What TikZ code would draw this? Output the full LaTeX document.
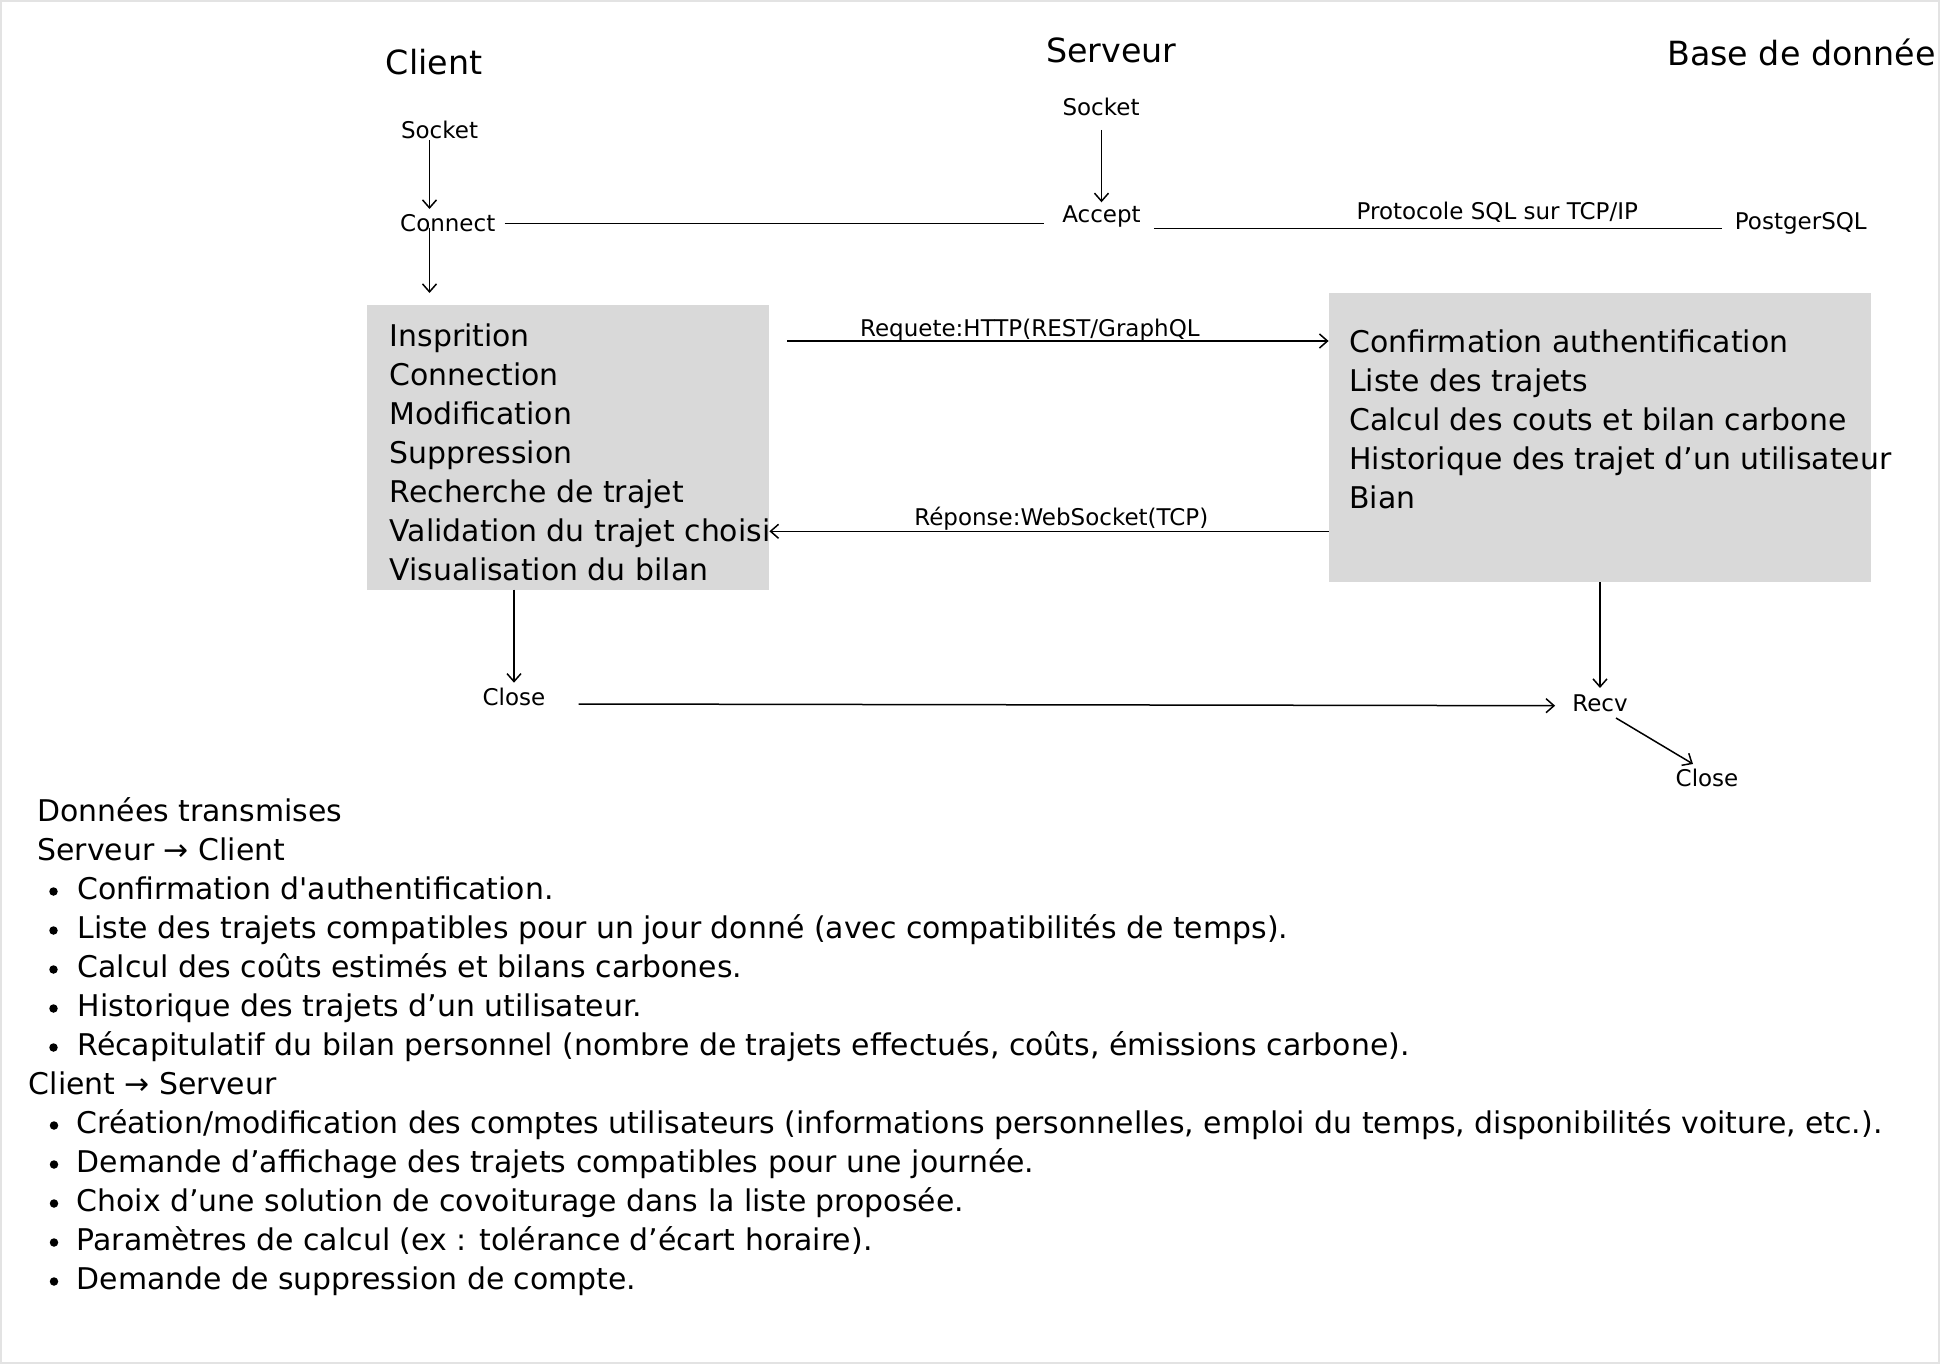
\documentclass[tikz,border=0pt]{standalone}
\usepackage{fontspec}
\setmainfont{DejaVu Sans}[Ligatures=TeXOff]
\usetikzlibrary{arrows.meta,calc}
\definecolor{boxgray}{HTML}{D9D9D9}
\definecolor{framegray}{HTML}{E3E3E3}
\tikzset{
  lbl/.style={inner sep=0pt, font=\fontsize{23}{28}\selectfont},
  ttl/.style={inner sep=0pt, anchor=base, font=\fontsize{33.3}{40}\selectfont},
  body/.style={inner sep=0pt, anchor=base west, font=\fontsize{29.9}{39}\selectfont},
  graybox/.style={fill=boxgray, draw=none, inner sep=0pt, anchor=north west},
  conn/.style={line width=1.5pt, black},
  arr/.style={conn, -{Straight Barb[length=8pt,width=14pt]}},
  bul/.style={circle, fill=black, inner sep=0pt, minimum size=8.5pt},
}
\begin{document}
\begin{tikzpicture}[x=1pt,y=-1pt]
\useasboundingbox (0,0) rectangle (1940,1364);
\fill[white] (0,0) rectangle (1940,1364);
\draw[framegray, line width=2pt] (1,1) rectangle (1938.5,1362.5);

% titles
\node[ttl] (tclient) at (434,75) {Client};
\node[ttl] (tserv) at (1111.5,62.3) {Serveur};
\node[ttl, anchor=base west] (tbase) at (1667,65.7) {Base de donnée};

% small labels
\node[lbl, anchor=base] (csock) at (439.5,138.5) {Socket};
\node[lbl, anchor=base west] (connect) at (400,231.7) {Connect};
\node[lbl, anchor=base] (ssock) at (1101,116) {Socket};
\node[lbl, anchor=base] (accept) at (1101.5,222.7) {Accept};
\node[lbl, anchor=base west] (postgres) at (1734.7,229.3) {PostgerSQL};
\node[lbl, anchor=base] (close1) at (514,705) {Close};
\node[lbl, anchor=base] (recv) at (1600,711.7) {Recv};
\node[lbl, anchor=base] (close2) at (1707,786.7) {Close};

% gray boxes
\node[graybox, minimum width=402pt, minimum height=284.3pt] (lbox) at (367,305) {};
\node[graybox, minimum width=542pt, minimum height=289.4pt] (rbox) at (1328.6,292.3) {};

\foreach \t [count=\i from 0] in {Insprition, Connection, Modification, Suppression, Recherche de trajet, Validation du trajet choisi, Visualisation du bilan}
  \node[body] (lt\i) at (389.5,{346.5+38.95*\i}) {\t};

\foreach \t [count=\i from 0] in {Confirmation authentification, Liste des trajets, Calcul des couts et bilan carbone, Historique des trajet d’un utilisateur, Bian}
  \node[body] (rt\i) at (1349,{352.5+39*\i}) {\t};

% connectors
\draw[arr] ($(csock.base)+(-10,1.5)$) -- ($(connect.base west)+(29.5,-22.7)$);
\draw[arr] ($(connect.base west)+(29.5,-4)$) -- ($(lbox.north west)+(62.5,-12)$);
\draw[conn] ($(connect.base west)+(104.5,-8.4)$) -- ($(accept.base west)+(-18.6,0.6)$);
\draw[arr] ($(ssock.base)+(0.5,14)$) -- ($(accept.base)+(0,-20.4)$);
\draw[conn] ($(accept.base east)+(13,5.6)$) -- node[lbl, pos=0.605, anchor=base, yshift=8.3pt] (proto) {Protocole SQL sur TCP/IP} ($(postgres.base west)+(-13.2,-1)$);
\draw[arr] ($(lbox.north east)+(18,36)$) -- node[lbl, pos=0.448, anchor=base, yshift=5pt] (req) {Requete:HTTP(REST/GraphQL} ($(rbox.north west)+(0,48.7)$);
\draw[arr] ($(rbox.north west)+(0,239)$) -- node[lbl, pos=0.478, anchor=base, yshift=6pt] (rep) {Réponse:WebSocket(TCP)} ($(lbox.north east)+(0,226.3)$);
\draw[arr] ($(lbox.south west)+(147,0)$) -- ($(close1.base)+(0,-22.3)$);
\draw[arr] ($(close1.base)+(64.5,-1)$) -- ($(recv.base west)+(-17,-6)$);
\draw[arr] ($(rbox.south west)+(271.4,0)$) -- ($(recv.base)+(0,-23.7)$);
\draw[arr] ($(recv.base)+(16,6.3)$) -- ($(close2.base)+(-14,-22.7)$);

% bottom text
\node[body] (dt) at (37.3,821) {Données transmises};
\node[body] (sc) at (37.3,860) {Serveur → Client};
\node[body] (b1) at (77.5,899) {Confirmation d'authentification.};
\node[body] (b2) at (77.5,938) {Liste des trajets compatibles pour un jour donné (avec compatibilités de temps).};
\node[body] (b3) at (77.5,977) {Calcul des coûts estimés et bilans carbones.};
\node[body] (b4) at (77.5,1016) {Historique des trajets d’un utilisateur.};
\node[body] (b5) at (77.5,1055) {Récapitulatif du bilan personnel (nombre de trajets effectués, coûts, émissions carbone).};
\node[body] (cs) at (28.7,1094) {Client → Serveur};
\node[body] (c1) at (76.5,1133) {Création/modification des comptes utilisateurs (informations personnelles, emploi du temps, disponibilités voiture, etc.).};
\node[body] (c2) at (76.5,1172) {Demande d’affichage des trajets compatibles pour une journée.};
\node[body] (c3) at (76.5,1211) {Choix d’une solution de covoiturage dans la liste proposée.};
\node[body] (c4) at (76.5,1250) {Paramètres de calcul (ex : tolérance d’écart horaire).};
\node[body] (c5) at (76.5,1289) {Demande de suppression de compte.};

\foreach \n in {b1,b2,b3,b4,b5}
  \node[bul] at ($(\n.base west)+(-24,-7.5)$) {};
\foreach \n in {c1,c2,c3,c4,c5}
  \node[bul] at ($(\n.base west)+(-22.5,-7.5)$) {};
\end{tikzpicture}
\end{document}
